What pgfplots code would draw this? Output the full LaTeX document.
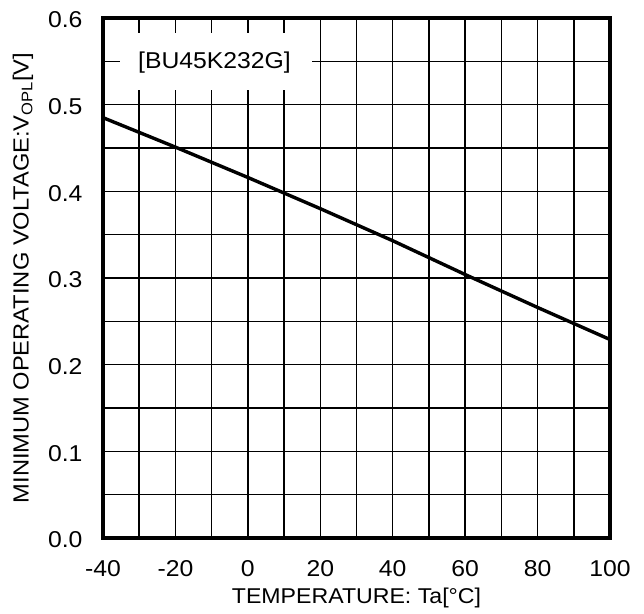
\documentclass[border=0pt]{standalone}
\usepackage{fontspec}
\setmainfont{Liberation Sans}[FakeStretch=1.08]
\usepackage{pgfplots}
\pgfplotsset{compat=1.18}
\begin{document}
\begin{tikzpicture}
\begin{axis}[
  scale only axis,
  width=507bp, height=520bp,
  xmin=-40, xmax=100, ymin=0, ymax=0.6,
  xtick={-40,-30,-20,-10,0,10,20,30,40,50,60,70,80,90,100},
  xticklabels={-40,,-20,,0,,20,,40,,60,,80,,100},
  ytick={0,0.05,0.1,0.15,0.2,0.25,0.3,0.35,0.4,0.45,0.5,0.55,0.6},
  yticklabels={0.0,,0.1,,0.2,,0.3,,0.4,,0.5,,0.6},
  grid=major,
  major grid style={black, line width=1.5bp},
  tick style={draw=none},
  axis line style={black, line width=3.4bp},
  /pgf/number format/assume math mode=true,
  xticklabel style={font=\fontsize{23}{26}\selectfont, yshift=-19bp},
  yticklabel style={font=\fontsize{23}{26}\selectfont, xshift=-17bp, yshift=-2bp},
  xlabel={TEMPERATURE: Ta[°C]},
  ylabel={MINIMUM OPERATING VOLTAGE:V\textsubscript{OPL}[V]},
  xlabel style={font=\fontsize{21.5}{24}\selectfont, yshift=-4bp},
  ylabel style={font=\fontsize{22}{25}\selectfont, yshift=8bp},
  clip=false,
]
\fill[white] (axis cs:-35.3,0.517) rectangle (axis cs:17.7,0.583);
\node[font=\fontsize{23}{26}\selectfont] at (axis cs:-9.2,0.549) {[BU45K232G]};
\addplot[black, line width=3.4bp] coordinates {
(-40,0.485) (-20,0.451) (0,0.416) (20,0.380) (40,0.343) (60,0.304) (80,0.266) (100,0.229)
};
\draw[black, line width=3.4bp] (rel axis cs:0,0) rectangle (rel axis cs:1,1);
\end{axis}
\pgfresetboundingbox
\useasboundingbox ([xshift=-103bp,yshift=-76bp]current axis.south west) rectangle ([xshift=34bp,yshift=18bp]current axis.north east);
\end{tikzpicture}
\end{document}
